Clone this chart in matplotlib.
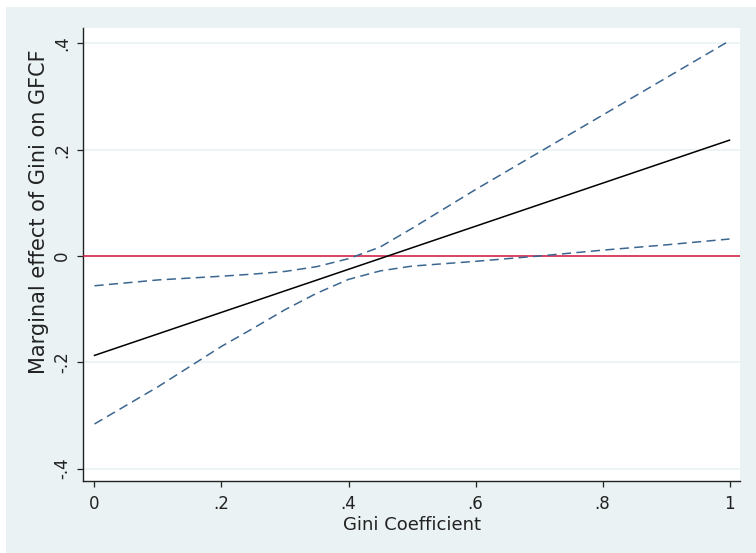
import matplotlib
matplotlib.use("Agg")
import matplotlib.pyplot as plt
from matplotlib.patches import Rectangle

# Marginal effect of Gini on GFCF with 95% confidence bounds
gini = [0.0, 0.1, 0.2, 0.25, 0.3, 0.35, 0.4, 0.45, 0.5, 0.6, 0.7, 0.8, 0.9, 1.0]
effect = [-0.187, -0.1465, -0.106, -0.0858, -0.0655, -0.0453, -0.025,
          -0.0048, 0.0155, 0.056, 0.0965, 0.137, 0.1775, 0.218]
upper = [-0.056, -0.045, -0.038, -0.034, -0.029, -0.020, -0.005,
         0.017, 0.052, 0.125, 0.195, 0.265, 0.335, 0.405]
lower = [-0.316, -0.246, -0.170, -0.136, -0.101, -0.070, -0.044,
         -0.028, -0.019, -0.010, 0.000, 0.011, 0.021, 0.032]

xticks = [0, 0.2, 0.4, 0.6, 0.8, 1.0]
xtick_labels = ["0", ".2", ".4", ".6", ".8", "1"]
yticks = [-0.4, -0.2, 0.0, 0.2, 0.4]
ytick_labels = ["-.4", "-.2", "0", ".2", ".4"]

plt.rcParams["font.family"] = ["DejaVu Sans"]

W, H = 756, 553
fig = plt.figure(figsize=(W / 100, H / 100), dpi=100)
fig.patch.set_facecolor("white")

bg = "#eaf2f3"
fig.patches.append(Rectangle((6 / W, 0), 1, (H - 7) / H, transform=fig.transFigure,
                             facecolor=bg, edgecolor="none", zorder=-10))

ax = fig.add_axes([83 / W, (H - 481) / H, (740 - 83) / W, (481 - 28) / H])
ax.set_facecolor("white")

ax.set_xlim(-0.0181, 1.0165)
ax.set_ylim(-0.4233, 0.429)

for yv in yticks:
    ax.axhline(yv, color=bg, lw=1.2, zorder=1)

ax.axhline(0, color="#d4163c", lw=1.1, zorder=3)
ax.plot(gini, upper, color="#3b6690", lw=1.1, ls=(0, (6, 3.5)), zorder=4)
ax.plot(gini, lower, color="#3b6690", lw=1.1, ls=(0, (6, 3.5)), zorder=4)
ax.plot(gini, effect, color="black", lw=1.1, zorder=5)

for side in ("top", "right"):
    ax.spines[side].set_visible(False)
for side in ("left", "bottom"):
    ax.spines[side].set_color("#222222")
    ax.spines[side].set_linewidth(1.0)

ax.set_xticks(xticks)
ax.set_xticklabels(xtick_labels)
ax.set_yticks(yticks)
ax.set_yticklabels(ytick_labels, rotation=90, va="center")
ax.tick_params(axis="both", direction="out", length=4.3, width=0.9,
               color="#222222", labelsize=12, labelcolor="#222222")
ax.tick_params(axis="x", pad=5.8)
ax.tick_params(axis="y", pad=4.3)

fig.text(412 / W, (H - 530) / H, "Gini Coefficient", ha="center", va="baseline",
         fontsize=13, color="#222222")
fig.text(39 / W, (H - 212) / H, "Marginal effect of Gini on GFCF", ha="center",
         va="center", rotation=90, fontsize=15, color="#222222")

fig.savefig("out.png", dpi=100)
